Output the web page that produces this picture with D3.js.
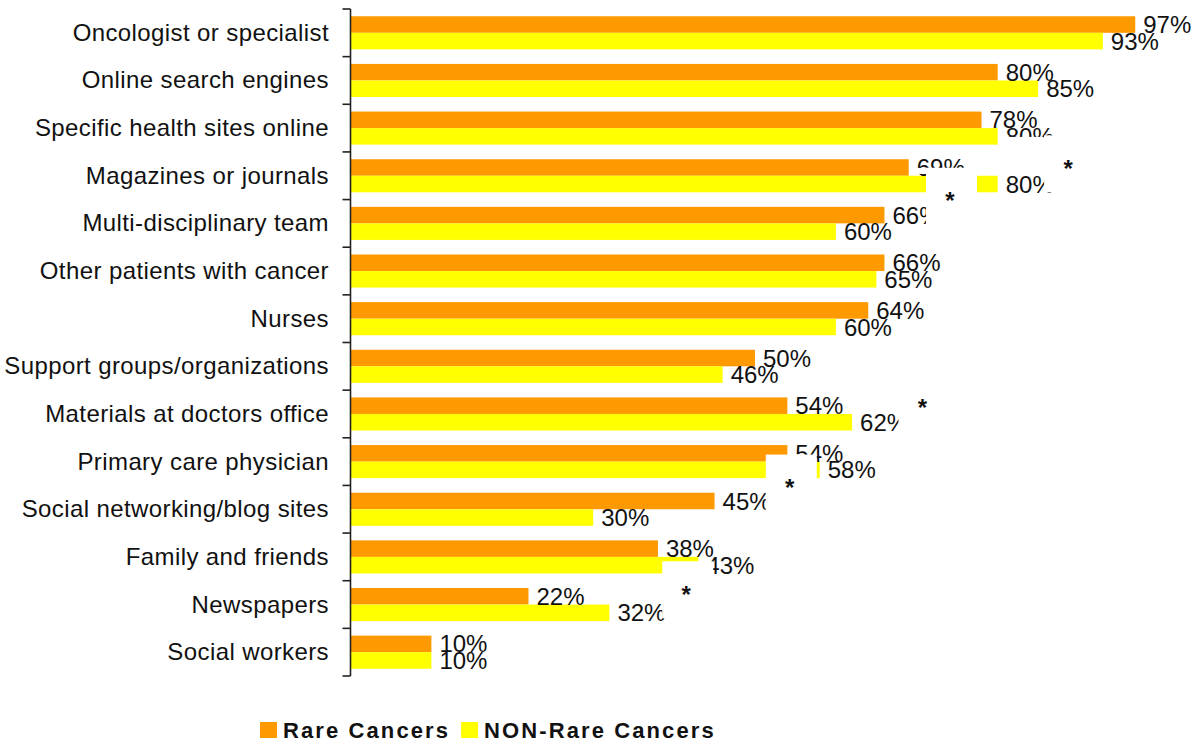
<!DOCTYPE html>
<html lang="en">
<head>
<meta charset="UTF-8">
<title>Information sources: Rare vs NON-Rare Cancers</title>
<script src="https://d3js.org/d3.v7.min.js"></script>
<style>
    body { margin: 0; background: #fff; }
    svg { display: block; font-family: "Liberation Sans", Arial, sans-serif; }
    .cat { font-size: 24px; fill: #111; letter-spacing: 0.4px; }
    .val { font-size: 24px; fill: #111; }
    .star { font-size: 24px; font-weight: bold; fill: #111; }
    .legend text { font-size: 22px; font-weight: bold; fill: #111; letter-spacing: 2.1px; }
</style>
</head>
<body>
<svg width="1199" height="742"></svg>
<script>
// data
var categories = ["Oncologist or specialist", "Online search engines", "Specific health sites online",
    "Magazines or journals", "Multi-disciplinary team", "Other patients with cancer", "Nurses",
    "Support groups/organizations", "Materials at doctors office", "Primary care physician",
    "Social networking/blog sites", "Family and friends", "Newspapers", "Social workers"];
var seriesNames = ["Rare Cancers", "NON-Rare Cancers"];
var rare    = [97, 80, 78, 69, 66, 66, 64, 50, 54, 54, 45, 38, 22, 10];
var nonRare = [93, 85, 80, 80, 60, 65, 60, 46, 62, 58, 30, 43, 32, 10];
// significance stars: category, value position, place within the row (0 top .. 1 bottom)
var starCats   = [3, 3, 8, 9, 12];
var starValues = [88.7, 74.1, 70.7, 54.3, 41.5];
var starPlace  = [0.24, 0.92, 0.26, 0.94, 0.18];

var colors = ["#ff9900", "#ffff00"];

var svg = d3.select("svg");

var x = d3.scaleLinear().domain([0, 100]).range([350.5, 1159.5]);
var y = d3.scaleBand().domain(categories).range([9, 676]);
var y1 = d3.scaleBand().domain(seriesNames).range([0, y.bandwidth()]).paddingOuter(0.44);

var rows = categories.map(function(c, i) {
    return {cat: c, vals: [rare[i], nonRare[i]]};
});

var groups = svg.append("g").selectAll("g")
    .data(rows).join("g")
    .attr("transform", function(d) { return "translate(0," + y(d.cat) + ")"; });

groups.selectAll("rect")
    .data(function(d) { return d.vals.map(function(v, j) { return {s: seriesNames[j], v: v, j: j}; }); })
    .join("rect")
    .attr("x", x(0))
    .attr("y", function(d) { return y1(d.s); })
    .attr("width", function(d) { return x(d.v) - x(0); })
    .attr("height", y1.bandwidth())
    .attr("fill", function(d) { return colors[d.j]; });

groups.selectAll("text.val")
    .data(function(d) { return d.vals.map(function(v, j) { return {s: seriesNames[j], v: v}; }); })
    .join("text")
    .attr("class", "val")
    .attr("x", function(d) { return x(d.v) + 8; })
    .attr("y", function(d) { return y1(d.s) + y1.bandwidth() / 2 + 8.6; })
    .text(function(d) { return d.v + "%"; });

// white text boxes of the original slide that hide parts of bars and labels
var masks = svg.append("g").attr("fill", "#fff");
// box of the magazines NON-rare label (cuts the label above it)
masks.append("rect")
    .attr("x", x(nonRare[3]) + 3).attr("y", y(categories[3]) - 15)
    .attr("width", 43).attr("height", 36);
masks.append("rect")
    .attr("x", x(rare[3]) + 4).attr("y", y(categories[3]) + 16)
    .attr("width", 20).attr("height", 6);

starCats.forEach(function(c, i) {
    var cx = x(starValues[i]);
    var cy = y(categories[c]) + starPlace[i] * y.bandwidth();
    masks.append("rect")
        .attr("x", cx - 24).attr("y", cy - 28)
        .attr("width", 51).attr("height", 57);
    svg.append("text")
        .attr("class", "star")
        .attr("x", cx).attr("y", cy + 13.5)
        .attr("text-anchor", "middle")
        .text("*");
});

// category axis
var axis = svg.append("g")
    .attr("transform", "translate(" + x(0) + ",0)");
axis.append("line")
    .attr("x1", 0).attr("x2", 0)
    .attr("y1", y.range()[0]).attr("y2", y.range()[1])
    .attr("stroke", "#222").attr("stroke-width", 1.6);
var tickYs = categories.map(function(c) { return y(c); }).concat([y.range()[1]]);
axis.selectAll("line.tick")
    .data(tickYs).join("line")
    .attr("class", "tick")
    .attr("x1", -8).attr("x2", 0)
    .attr("y1", function(d) { return d; }).attr("y2", function(d) { return d; })
    .attr("stroke", "#222").attr("stroke-width", 1.6);

svg.append("g").selectAll("text")
    .data(categories).join("text")
    .attr("class", "cat")
    .attr("x", 329)
    .attr("y", function(d) { return y(d) + y.bandwidth() / 2 + 8; })
    .attr("text-anchor", "end")
    .text(function(d) { return d; });

// legend
var legend = svg.append("g").attr("class", "legend").attr("transform", "translate(260,722)");
var lx = 0;
seriesNames.forEach(function(name, i) {
    legend.append("rect")
        .attr("x", lx).attr("y", 0).attr("width", 17).attr("height", 16)
        .attr("fill", colors[i]);
    var t = legend.append("text")
        .attr("x", lx + 23).attr("y", 15.5)
        .text(name);
    lx += 23 + t.node().getComputedTextLength() + 11;
});
</script>
</body>
</html>
